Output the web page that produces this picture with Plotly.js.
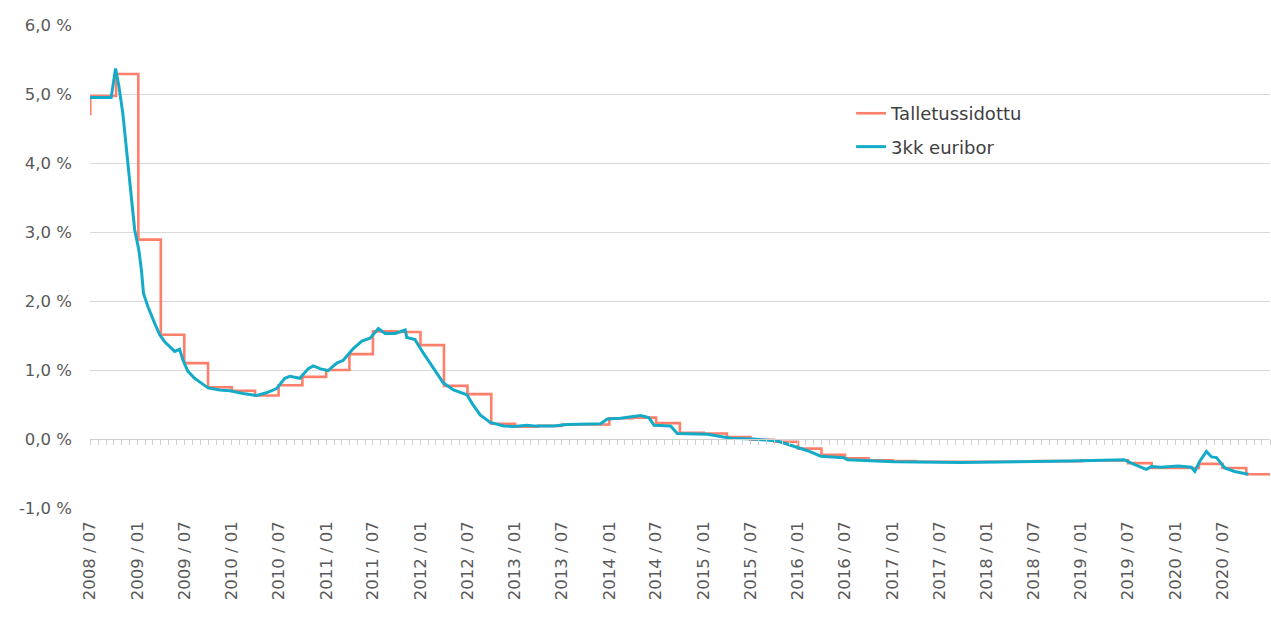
<!DOCTYPE html>
<html>
<head>
<meta charset="utf-8">
<script src="https://cdn.plot.ly/plotly-3.0.1.min.js"></script>
<style>
  html, body { margin: 0; padding: 0; background: #ffffff; }
  #chart { width: 1271px; height: 621px; }
</style>
</head>
<body>
<div id="chart"></div>
<script>
// ---- Data ----
const depositDates = ['2008-07-01','2008-07-02','2008-10-10','2009-01-04','2009-04-01','2009-07-01','2009-10-01','2010-01-01','2010-04-01','2010-07-01','2010-10-01','2011-01-01','2011-04-01','2011-07-01','2011-10-01','2012-01-01','2012-04-01','2012-07-01','2012-10-01','2013-01-01','2013-04-01','2013-07-01','2013-10-01','2014-01-01','2014-04-01','2014-07-01','2014-10-01','2015-01-01','2015-04-01','2015-07-01','2015-10-01','2016-01-01','2016-04-01','2016-07-01','2016-10-01','2017-01-01','2017-04-01','2017-07-01','2017-10-01','2018-01-01','2018-04-01','2018-07-01','2018-10-01','2019-01-01','2019-04-01','2019-07-01','2019-10-01','2020-01-01','2020-04-01','2020-07-01','2020-10-01','2021-01-01'];
const depositRate = [4.71,4.97,5.29,2.89,1.51,1.10,0.75,0.70,0.63,0.78,0.90,1.00,1.23,1.56,1.55,1.36,0.77,0.65,0.22,0.18,0.19,0.21,0.21,0.30,0.31,0.23,0.09,0.08,0.03,-0.01,-0.04,-0.14,-0.23,-0.28,-0.31,-0.32,-0.33,-0.33,-0.33,-0.33,-0.33,-0.32,-0.32,-0.31,-0.31,-0.35,-0.42,-0.42,-0.36,-0.42,-0.51,-0.51];

const euriborDates = ['2008-07-01','2008-09-21','2008-10-08','2008-10-21','2008-11-05','2008-11-18','2008-12-01','2008-12-12','2008-12-21','2009-01-06','2009-01-16','2009-01-24','2009-02-10','2009-03-08','2009-03-28','2009-04-16','2009-05-12','2009-05-25','2009-06-13','2009-06-26','2009-07-15','2009-08-10','2009-09-05','2009-10-01','2009-11-15','2009-12-24','2010-02-14','2010-04-07','2010-05-15','2010-06-23','2010-07-25','2010-08-14','2010-09-21','2010-10-24','2010-11-12','2010-12-08','2011-01-09','2011-02-11','2011-03-08','2011-04-16','2011-05-19','2011-06-20','2011-07-22','2011-08-17','2011-09-25','2011-11-03','2011-11-09','2011-12-11','2012-01-13','2012-02-20','2012-03-30','2012-05-08','2012-06-29','2012-07-18','2012-08-19','2012-09-27','2012-11-18','2012-12-27','2013-02-17','2013-03-14','2013-05-31','2013-07-22','2013-11-28','2013-12-24','2014-02-13','2014-05-02','2014-06-03','2014-06-23','2014-08-26','2014-09-21','2015-01-16','2015-04-16','2015-07-14','2015-10-14','2015-12-16','2016-02-07','2016-03-30','2016-06-27','2016-07-11','2017-01-07','2017-09-23','2018-06-10','2018-07-30','2018-11-24','2019-06-17','2019-07-14','2019-09-10','2019-09-30','2019-11-07','2020-01-11','2020-03-03','2020-03-16','2020-04-03','2020-04-30','2020-05-20','2020-06-08','2020-07-10','2020-08-17','2020-09-24','2020-10-09'];
const euribor3m = [4.95,4.95,5.37,5.11,4.72,4.24,3.80,3.37,3.03,2.74,2.45,2.11,1.92,1.68,1.51,1.41,1.31,1.27,1.30,1.14,0.98,0.88,0.81,0.74,0.71,0.70,0.66,0.63,0.67,0.73,0.88,0.91,0.88,1.02,1.06,1.02,0.99,1.10,1.14,1.31,1.42,1.46,1.60,1.53,1.53,1.58,1.47,1.44,1.24,1.02,0.81,0.71,0.64,0.52,0.35,0.24,0.19,0.18,0.20,0.19,0.19,0.21,0.22,0.29,0.30,0.34,0.31,0.20,0.19,0.08,0.07,0.01,0.00,-0.03,-0.11,-0.17,-0.25,-0.27,-0.30,-0.33,-0.34,-0.33,-0.32,-0.32,-0.30,-0.35,-0.44,-0.40,-0.41,-0.39,-0.41,-0.47,-0.33,-0.18,-0.26,-0.27,-0.42,-0.47,-0.50,-0.51];

const yTickValues = [-1,0,1,2,3,4,5,6];
const yTickLabels = ['-1,0 %','0,0 %','1,0 %','2,0 %','3,0 %','4,0 %','5,0 %','6,0 %'];
const xTickValues = ['2008-07-01','2009-01-01','2009-07-01','2010-01-01','2010-07-01','2011-01-01','2011-07-01','2012-01-01','2012-07-01','2013-01-01','2013-07-01','2014-01-01','2014-07-01','2015-01-01','2015-07-01','2016-01-01','2016-07-01','2017-01-01','2017-07-01','2018-01-01','2018-07-01','2019-01-01','2019-07-01','2020-01-01','2020-07-01'];
const xTickLabels = ['2008 / 07','2009 / 01','2009 / 07','2010 / 01','2010 / 07','2011 / 01','2011 / 07','2012 / 01','2012 / 07','2013 / 01','2013 / 07','2014 / 01','2014 / 07','2015 / 01','2015 / 07','2016 / 01','2016 / 07','2017 / 01','2017 / 07','2018 / 01','2018 / 07','2019 / 01','2019 / 07','2020 / 01','2020 / 07'];
const xRange = ['2008-07-01','2021-01-01'];
const seriesNames = ['Talletussidottu','3kk euribor'];

// ---- Chart ----
const traces = [
  {
    x: depositDates, y: depositRate, name: seriesNames[0], type: 'scatter', mode: 'lines',
    xaxis: 'x', yaxis: 'y',
    line: {color: '#FF7F6B', width: 2.6, shape: 'hv'}, legendgroup: 'a', hoverinfo: 'x+y'
  },
  {
    x: euriborDates, y: euribor3m, name: seriesNames[1], type: 'scatter', mode: 'lines',
    xaxis: 'x2', yaxis: 'y',
    line: {color: '#14ABC8', width: 3}, legendgroup: 'b', hoverinfo: 'x+y'
  }
];

const tickFont = {family: 'DejaVu Sans, sans-serif', size: 16.5, color: '#595959'};

const layout = {
  width: 1271, height: 621,
  margin: {l: 90, r: 1, t: 25, b: 113},
  paper_bgcolor: '#ffffff', plot_bgcolor: '#ffffff',
  font: {family: 'DejaVu Sans, sans-serif', size: 16, color: '#595959'},
  showlegend: true,
  legend: {
    x: 0.645, y: 0.855, xanchor: 'left', yanchor: 'top',
    bgcolor: 'rgba(0,0,0,0)', borderwidth: 0,
    font: {family: 'DejaVu Sans, sans-serif', size: 18, color: '#404040'},
    tracegroupgap: 7, traceorder: 'grouped'
  },
  xaxis: {
    type: 'date', range: xRange,
    tickmode: 'array', tickvals: xTickValues, ticktext: xTickLabels,
    tickangle: -90, ticks: '', showgrid: false, zeroline: false, showline: false,
    tickfont: tickFont, ticklabelstandoff: 9
  },
  xaxis2: {
    type: 'date', range: xRange, overlaying: 'x', matches: 'x', anchor: 'free', position: 1/7,
    tickmode: 'linear', tick0: '2008-07-01', dtick: 'M1',
    ticks: 'outside', ticklen: 5, tickcolor: '#d0d0d0', tickwidth: 1,
    showticklabels: false, showgrid: false, zeroline: false,
    showline: true, linecolor: '#d0d0d0', linewidth: 1
  },
  yaxis: {
    range: [-1, 6], tickmode: 'array', tickvals: yTickValues, ticktext: yTickLabels,
    showgrid: true, gridcolor: '#d9d9d9', gridwidth: 1, zeroline: false, showline: false,
    ticks: '', ticklabelstandoff: 17, tickfont: tickFont
  }
};

Plotly.newPlot('chart', traces, layout, {displayModeBar: false, staticPlot: true});
</script>
</body>
</html>
